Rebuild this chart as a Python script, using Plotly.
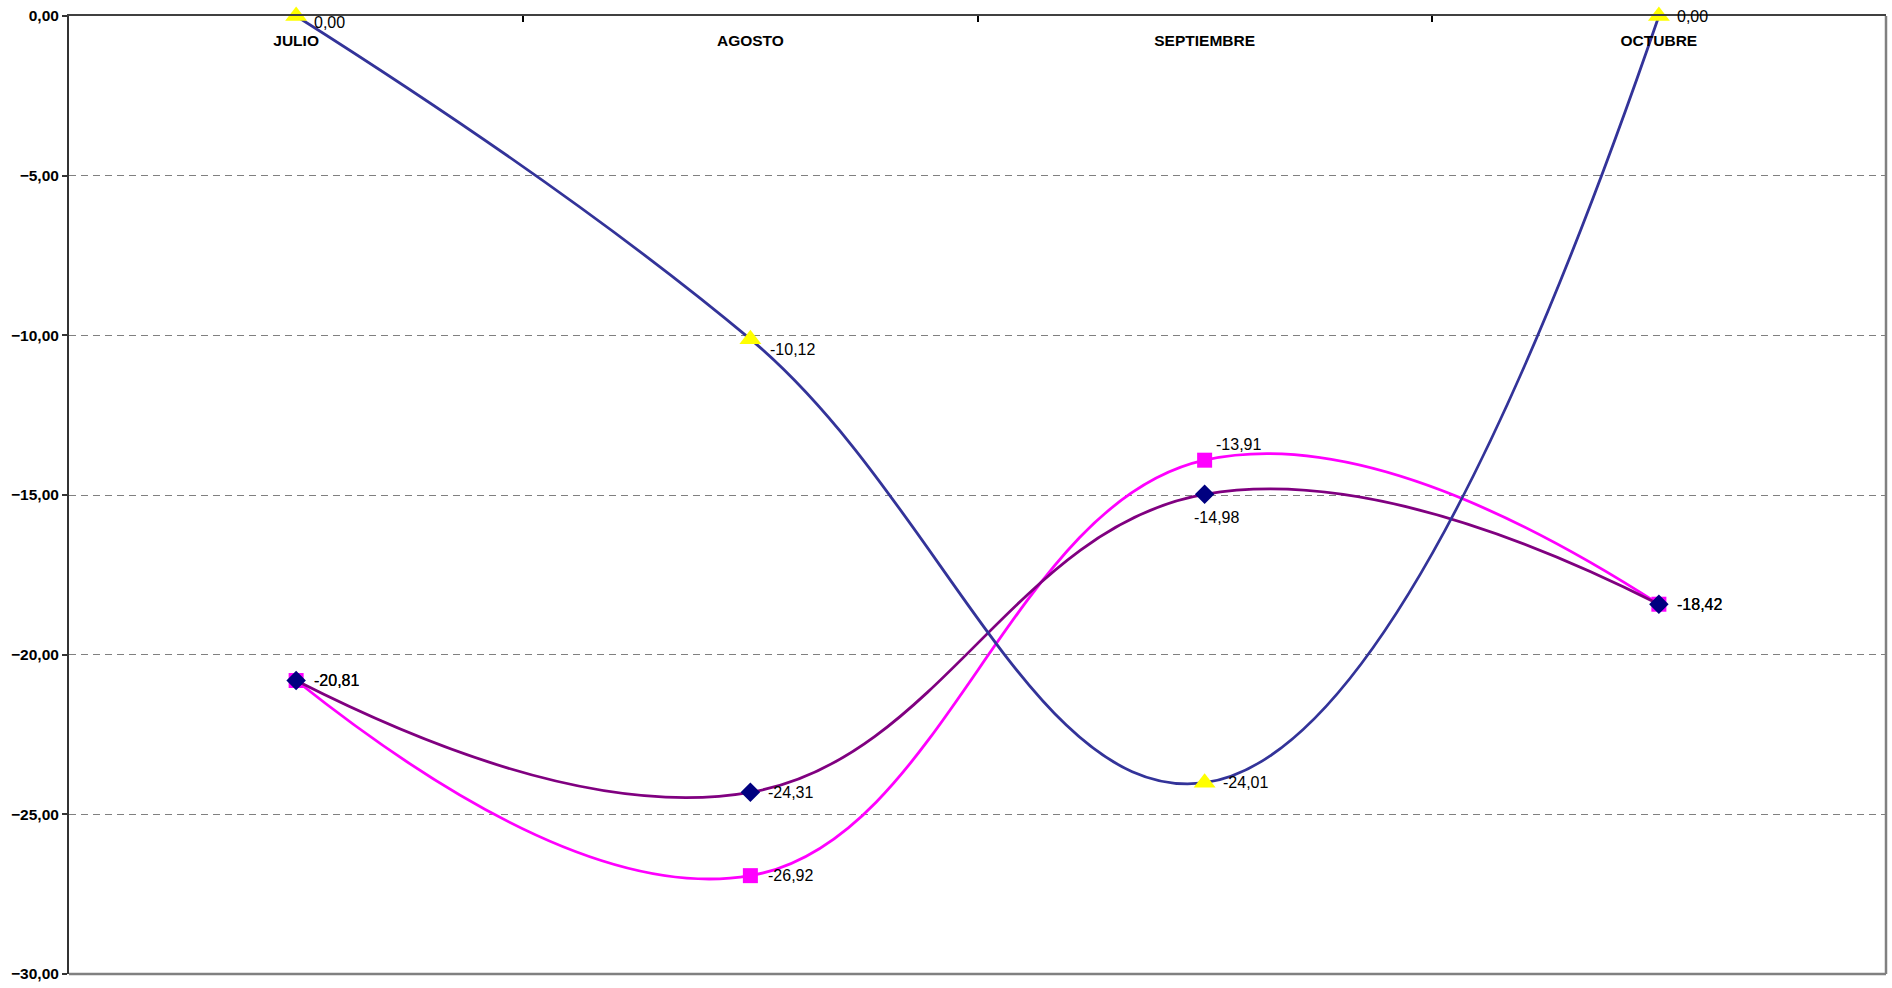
import plotly.graph_objects as go

months = ["JULIO", "AGOSTO", "SEPTIEMBRE", "OCTUBRE"]
serie_rombo = [-20.81, -24.31, -14.98, -18.42]
serie_cuadro = [-20.81, -26.92, -13.91, -18.42]
serie_triangulo = [0.00, -10.12, -24.01, 0.00]
y_ticks = [0, -5, -10, -15, -20, -25, -30]

FONT = "Liberation Sans, Arial, sans-serif"
SMOOTH = 1.2

def fmt(v):
    return f"{v:.2f}".replace(".", ",")

fig = go.Figure()

fig.add_trace(go.Scatter(
    x=months, y=serie_cuadro, mode="lines+markers",
    line=dict(color="#FF00FF", width=2.8, shape="spline", smoothing=SMOOTH),
    marker=dict(symbol="square", size=15, color="#FF00FF", line=dict(width=0)),
    cliponaxis=False, showlegend=False,
))
fig.add_trace(go.Scatter(
    x=months, y=serie_rombo, mode="lines+markers",
    line=dict(color="#800080", width=2.8, shape="spline", smoothing=SMOOTH),
    marker=dict(symbol="diamond", size=15, color="#000080", line=dict(width=0)),
    cliponaxis=False, showlegend=False,
))
fig.add_trace(go.Scatter(
    x=months, y=serie_triangulo, mode="lines+markers", xaxis="x2",
    line=dict(color="#333399", width=2.8, shape="spline", smoothing=SMOOTH),
    marker=dict(symbol="triangle-up", size=19, color="#FFFF00", line=dict(width=0)),
    cliponaxis=False, showlegend=False,
))

# data labels: (series, shifts per point)
label_specs = [
    (serie_cuadro, [(16, 0), (16, 0), (9, 16), (16, 0)]),
    (serie_rombo, [(16, 0), (16, 0), (-13, -23), (16, 0)]),
    (serie_triangulo, [(16, -6), (18, -10), (16, 0), (16, 0)]),
]
for vals, shifts in label_specs:
    for m, v, (dx, dy) in zip(months, vals, shifts):
        fig.add_annotation(
            x=m, y=v, text=fmt(v), showarrow=False,
            xanchor="left", yanchor="middle", xshift=dx, yshift=dy,
            font=dict(family=FONT, size=16, color="#000000"),
        )

# right and bottom frame
fig.add_shape(type="line", xref="paper", yref="paper", x0=1, x1=1, y0=0, y1=1,
              line=dict(color="#808080", width=2.5))
fig.add_shape(type="line", xref="paper", yref="paper", x0=0, x1=1, y0=0, y1=0,
              line=dict(color="#808080", width=2.5))

fig.update_layout(
    width=1892, height=988,
    margin=dict(l=69, r=6, t=16, b=9),
    paper_bgcolor="white", plot_bgcolor="white",
    separators=",.",
    font=dict(family=FONT, size=15.5, color="#000000"),
    xaxis=dict(
        type="category", side="top", range=[-0.5, 3.5],
        categoryorder="array", categoryarray=months,
        tickson="boundaries", ticks="inside", ticklen=6, tickcolor="#000000", tickwidth=1.5,
        showticklabels=False,
        showline=True, linecolor="#404040", linewidth=2,
        showgrid=False, zeroline=False,
    ),
    xaxis2=dict(
        type="category", overlaying="x", anchor="free", position=1, side="bottom",
        range=[-0.5, 3.5], categoryorder="array", categoryarray=months,
        ticks="", ticklabelstandoff=13,
        tickfont=dict(family=FONT, size=15.5, color="#000000", weight="bold"),
        showline=False, showgrid=False, zeroline=False,
    ),
    yaxis=dict(
        range=[-30, 0], tickvals=y_ticks, tickformat=".2f",
        ticks="outside", ticklen=5, tickcolor="#333333", tickwidth=1.5,
        ticklabeloverflow="allow",
        tickfont=dict(family=FONT, size=15.5, color="#000000", weight="bold"),
        showline=True, linecolor="#333333", linewidth=2,
        showgrid=True, gridcolor="#808080", gridwidth=1, griddash="7px,5px",
        zeroline=False,
    ),
)

fig.write_html("out.html", config={"displayModeBar": False},
               post_script="document.body.style.margin='0';")
